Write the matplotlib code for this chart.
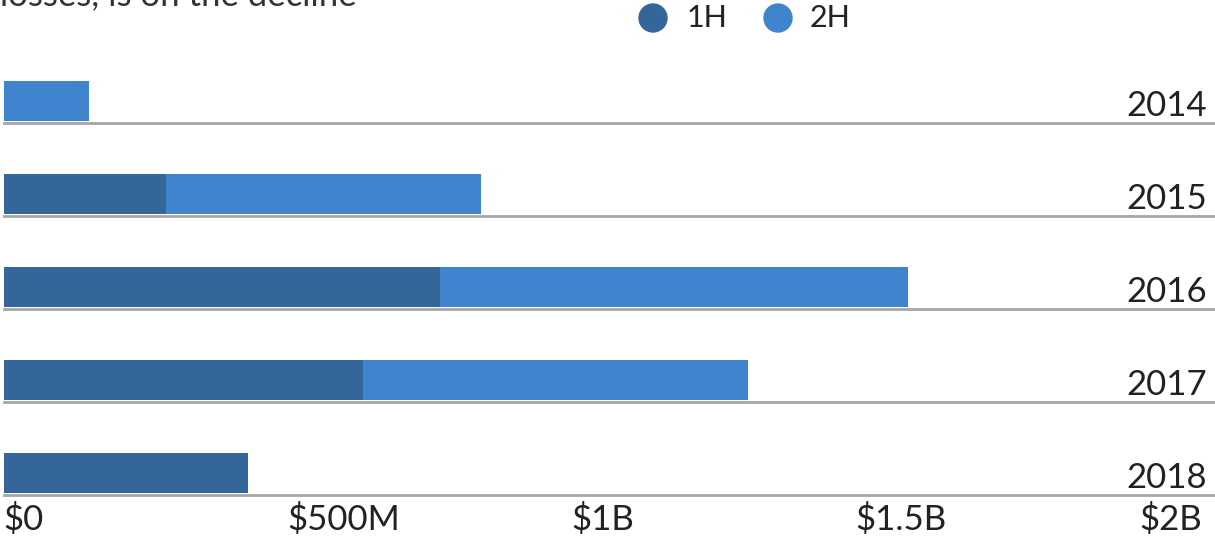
import numpy as np
import matplotlib.pyplot as plt
from matplotlib.patches import Ellipse

plt.rcParams['font.family'] = ['Lato', 'DejaVu Sans']

# data (values in $M)
years = ['2014', '2015', '2016', '2017', '2018']
h1 = [0, 286, 768, 633, 430]
h2 = [150, 555, 824, 678, 0]
tick_vals = [0, 500, 1000, 1500, 2000]
tick_labels = ['$0', '$500M', '$1B', '$1.5B', '$2B']
series = ['1H', '2H']

c1 = '#34669a'
c2 = '#3f84cc'
txt = '#222222'

W, H = 1215, 541
fig = plt.figure(figsize=(W / 100, H / 100), dpi=100)

# axes in pixel terms: x from 3.5 to 1215, y from 60 to 493
left, top, bottom = 3.5, 60, 493
ax = fig.add_axes([left / W, (H - bottom) / H, 1 - left / W, (bottom - top) / H])

px_per_m = 0.568
ax.set_xlim(0, (W - left) / px_per_m)
row = 93.0  # pixels between rows
ax.set_ylim(0, (bottom - top) / row)

ypos = np.arange(len(years))[::-1].astype(float)  # 2014 at top
bar_h = 40 / row

ax.barh(ypos, h1, height=bar_h, align='edge', color=c1, linewidth=0)
ax.barh(ypos, h2, left=h1, height=bar_h, align='edge', color=c2, linewidth=0)

for y, yr in zip(ypos, years):
    ax.axhline(y - 1.5 / row, color='#a6a6a6', lw=2, clip_on=False, zorder=3)
    ax.text(0.9935, y + 5 / row, yr, transform=ax.get_yaxis_transform(),
            ha='right', va='baseline', fontsize=25, color=txt)

for s in ax.spines.values():
    s.set_visible(False)
ax.set_yticks([])
ax.set_xticks(tick_vals)
ax.set_xticklabels(tick_labels, fontsize=25, color=txt)
for lab in ax.get_xticklabels():
    lab.set_horizontalalignment('left')
ax.tick_params(axis='x', length=0, pad=7)

# legend made of dots
for cx, tx, col, name in [(653, 687, c1, series[0]), (778, 810, c2, series[1])]:
    fig.patches.append(Ellipse((cx / W, 1 - 18 / H), 28 / W, 28 / H, color=col,
                               transform=fig.transFigure, figure=fig))
    fig.text(tx / W, 1 - 18 / H, name, ha='left', va='center', fontsize=22, color=txt)

# title, cut off at the top edge like in the source
fig.text(0.0, 1 - 5 / H, 'losses, is on the decline', ha='left', va='baseline',
         fontsize=25, color='#333333')

fig.savefig('out.png', dpi=100)
